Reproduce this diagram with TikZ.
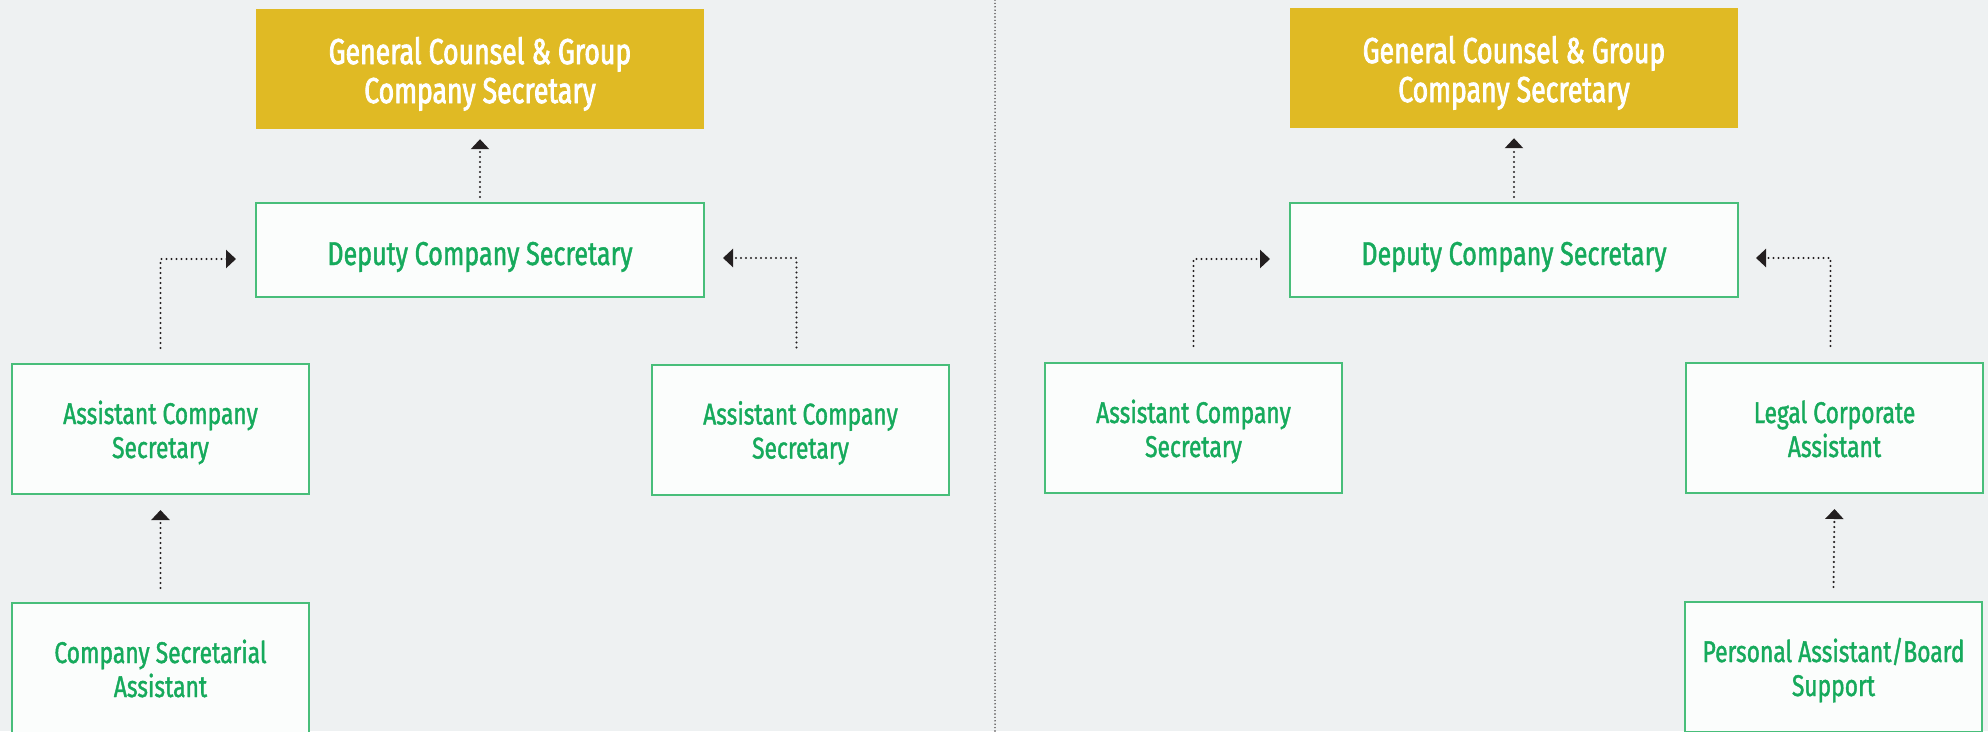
\documentclass[tikz,border=0pt]{standalone}
\usepackage{fontspec}
\setmainfont{Fira Sans}[FakeStretch=0.76]
\newfontfamily\headfont{Fira Sans}[FakeStretch=0.74,FakeBold=2.2]
\newfontfamily\rolefont{Fira Sans}[FakeStretch=0.76,FakeBold=1.3]
\usetikzlibrary{arrows.meta,positioning,calc}
\definecolor{paper}{RGB}{238,241,242}
\definecolor{gold}{RGB}{224,186,36}
\definecolor{leaf}{RGB}{22,170,92}
\definecolor{leafline}{RGB}{72,190,122}
\definecolor{boxwhite}{RGB}{251,253,252}
\definecolor{ink}{RGB}{35,31,32}
\tikzset{
  head/.style={fill=gold,text=white,minimum width=448pt,minimum height=120pt,
    inner sep=0pt,align=center,text height=76pt,text depth=8pt,
    font=\fontsize{36}{39}\headfont},
  role/.style={draw=leafline,line width=2pt,fill=boxwhite,text=leaf,
    minimum width=297pt,minimum height=130pt,inner sep=0pt,align=center,
    text height=64pt,text depth=6pt,font=\fontsize{30}{34}\rolefont},
  widerole/.style={role,minimum width=448pt,minimum height=94pt,
    text height=37pt,text depth=7pt,font=\fontsize{33}{36}\rolefont},
  link/.style={ink,line width=2.4pt,line cap=round,dash pattern=on 0pt off 5pt,
    -{Triangle[width=18pt,length=10pt]}}
}

\begin{document}
\begin{tikzpicture}[x=1pt,y=-1pt]
  \fill[paper] (0,0) rectangle (1988,731);
  \clip (0,0) rectangle (1988,731);
  \draw[ink!85,line width=1.6pt,line cap=round,dash pattern=on 0pt off 3.4pt]
    (995,0) -- (995,731);

  % left chart
  \node[head] (topL) at (480,69) {General Counsel \& Group\\Company Secretary};
  \node[widerole] (depL) at (480,250) {Deputy Company Secretary};
  \node[role] (acsL) at (160.5,429) {Assistant Company\\Secretary};
  \node[role] (acsM) at (800.5,429.5) {Assistant Company\\Secretary};
  \node[role] (csa) at (160.5,668) {Company Secretarial\\Assistant};

  \draw[link] ([yshift=5pt]depL.north) -- ([yshift=-10pt]topL.south);
  \draw[link] ([yshift=15pt]acsL.north) |- ([xshift=-19pt,yshift=-9pt]depL.west);
  \draw[link] ([xshift=-4pt,yshift=16pt]acsM.north) |- ([xshift=18pt,yshift=-8pt]depL.east);
  \draw[link] ([yshift=14pt]csa.north) -- ([yshift=-15pt]acsL.south);

  % right chart
  \node[head] (topR) at (1514,68) {General Counsel \& Group\\Company Secretary};
  \node[widerole] (depR) at (1514,250) {Deputy Company Secretary};
  \node[role] (acsR) at (1193.5,428) {Assistant Company\\Secretary};
  \node[role] (lca) at (1834.5,428) {Legal Corporate\\Assistant};
  \node[role] (pab) at (1833.5,667) {Personal Assistant/Board\\Support};

  \draw[link] ([yshift=5pt]depR.north) -- ([yshift=-10pt]topR.south);
  \draw[link] ([yshift=16pt]acsR.north) |- ([xshift=-19pt,yshift=-9pt]depR.west);
  \draw[link] ([xshift=-4pt,yshift=16pt]lca.north) |- ([xshift=17pt,yshift=-8pt]depR.east);
  \draw[link] ([yshift=14pt]pab.north) -- ([yshift=-15pt]lca.south);
\end{tikzpicture}
\end{document}
